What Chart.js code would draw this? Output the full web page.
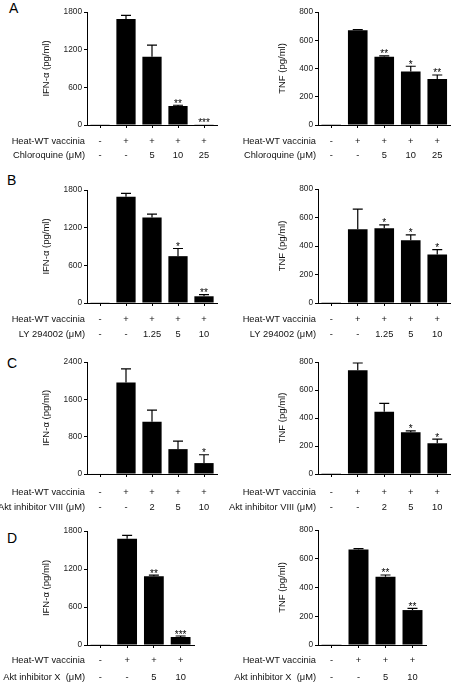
<!DOCTYPE html>
<html>
<head>
<meta charset="utf-8">
<script src="https://cdn.jsdelivr.net/npm/chart.js@4.4.1/dist/chart.umd.min.js"></script>
<style>
  body { margin: 0; background: #fff; font-family: "Liberation Sans", Arial, sans-serif; }
  #fig { position: relative; width: 452px; height: 685px; overflow: hidden; }
  canvas { position: absolute; }
  .lbl { position: absolute; font-size: 14px; line-height: 14px; color: #000; }
</style>
</head>
<body>
<div id="fig">
  <div class="lbl" style="left:9px;top:1px">A</div>
  <div class="lbl" style="left:7px;top:173px">B</div>
  <div class="lbl" style="left:7px;top:356px">C</div>
  <div class="lbl" style="left:7px;top:531px">D</div>
</div>
<script>
// row labels under the bars
const heat5 = ['-', '+', '+', '+', '+'];
const heat4 = ['-', '+', '+', '+'];
const doseA = ['-', '-', '5', '10', '25'];
const doseB = ['-', '-', '1.25', '5', '10'];
const doseC = ['-', '-', '2', '5', '10'];
const doseD = ['-', '-', '5', '10'];

// y tick labels
const ticks1800 = [0, 600, 1200, 1800];
const ticks2400 = [0, 800, 1600, 2400];
const ticks800 = [0, 200, 400, 600, 800];

// A: chloroquine
const ifnA = [5, 1688, 1088, 303, 5];
const ifnAErr = [0, 58, 185, 12, 0];
const ifnAStars = ['', '', '', '**', '***'];
const tnfA = [5, 670, 484, 378, 326];
const tnfAErr = [0, 5, 6, 38, 28];
const tnfAStars = ['', '', '**', '*', '**'];

// B: LY 294002
const ifnB = [5, 1693, 1363, 746, 107];
const ifnBErr = [0, 54, 54, 122, 26];
const ifnBStars = ['', '', '', '*', '**'];
const tnfB = [5, 518, 525, 440, 341];
const tnfBErr = [0, 141, 23, 38, 33];
const tnfBStars = ['', '', '*', '*', '*'];

// C: Akt inhibitor VIII
const ifnC = [10, 1960, 1122, 533, 234];
const ifnCErr = [0, 291, 248, 170, 178];
const ifnCStars = ['', '', '', '', '*'];
const tnfC = [5, 741, 445, 298, 220];
const tnfCErr = [0, 52, 59, 10, 29];
const tnfCStars = ['', '', '', '*', '*'];

// D: Akt inhibitor X
const ifnD = [5, 1679, 1086, 126];
const ifnDErr = [0, 53, 16, 16];
const ifnDStars = ['', '', '**', '***'];
const tnfD = [5, 665, 475, 243];
const tnfDErr = [0, 5, 12, 12];
const tnfDStars = ['', '', '**', '**'];

const FONT = "'Liberation Sans', Arial, sans-serif";

const panels = [
  { left: 0, top: 12, bottom: 125, axisW: 87, title: 'IFN-α (pg/ml)', ticks: ticks1800, vals: ifnA, err: ifnAErr, stars: ifnAStars, heat: heat5, dose: doseA, doseName: 'Chloroquine (μM)', rows: [16, 30] },
  { left: 226, top: 12, bottom: 125, axisW: 92, title: 'TNF (pg/ml)', ticks: ticks800, vals: tnfA, err: tnfAErr, stars: tnfAStars, heat: heat5, dose: doseA, doseName: 'Chloroquine (μM)', rows: [16, 30] },
  { left: 0, top: 190, bottom: 303, axisW: 87, title: 'IFN-α (pg/ml)', ticks: ticks1800, vals: ifnB, err: ifnBErr, stars: ifnBStars, heat: heat5, dose: doseB, doseName: 'LY 294002 (μM)', rows: [16, 31] },
  { left: 226, top: 189, bottom: 303, axisW: 92, title: 'TNF (pg/ml)', ticks: ticks800, vals: tnfB, err: tnfBErr, stars: tnfBStars, heat: heat5, dose: doseB, doseName: 'LY 294002 (μM)', rows: [16, 31] },
  { left: 0, top: 362, bottom: 474, axisW: 87, title: 'IFN-α (pg/ml)', ticks: ticks2400, vals: ifnC, err: ifnCErr, stars: ifnCStars, heat: heat5, dose: doseC, doseName: 'Akt inhibitor VIII (μM)', rows: [18, 33] },
  { left: 226, top: 362, bottom: 474, axisW: 92, title: 'TNF (pg/ml)', ticks: ticks800, vals: tnfC, err: tnfCErr, stars: tnfCStars, heat: heat5, dose: doseC, doseName: 'Akt inhibitor VIII (μM)', rows: [18, 33] },
  { left: 0, top: 531, bottom: 645, axisW: 87, title: 'IFN-α (pg/ml)', ticks: ticks1800, vals: ifnD, err: ifnDErr, stars: ifnDStars, heat: heat4, dose: doseD, doseName: 'Akt inhibitor X  (μM)', rows: [15, 32] },
  { left: 226, top: 530, bottom: 645, axisW: 92, title: 'TNF (pg/ml)', ticks: ticks800, vals: tnfD, err: tnfDErr, stars: tnfDStars, heat: heat4, dose: doseD, doseName: 'Akt inhibitor X  (μM)', rows: [15, 32] }
];

// error bars, stars and the treatment table under each chart
const panelExtras = (p) => ({
  id: 'panelExtras',
  afterDatasetsDraw(chart) {
    const { ctx, scales: { x, y } } = chart;
    ctx.save();
    ctx.strokeStyle = '#000';
    ctx.fillStyle = '#000';
    ctx.lineWidth = 1.2;
    ctx.font = '10px ' + FONT;
    ctx.textAlign = 'center';
    ctx.textBaseline = 'alphabetic';
    p.vals.forEach((v, i) => {
      const px = x.getPixelForValue(i);
      const top = y.getPixelForValue(v + p.err[i]);
      if (p.err[i] > 0) {
        ctx.beginPath();
        ctx.moveTo(px, y.getPixelForValue(v));
        ctx.lineTo(px, top);
        ctx.moveTo(px - 5, top);
        ctx.lineTo(px + 5, top);
        ctx.stroke();
      }
      if (p.stars[i]) ctx.fillText(p.stars[i], px, top + 1.5);
    });
    ctx.restore();
  },
  afterDraw(chart) {
    const { ctx, chartArea, scales: { x } } = chart;
    ctx.save();
    ctx.fillStyle = '#111';
    ctx.font = '9.3px ' + FONT;
    ctx.textBaseline = 'middle';
    [[p.heat, 'Heat-WT vaccinia'], [p.dose, p.doseName]].forEach(([row, name], r) => {
      const ry = chartArea.bottom + p.rows[r];
      ctx.textAlign = 'right';
      ctx.fillText(name, chartArea.left - 2, ry);
      ctx.textAlign = 'center';
      row.forEach((s, i) => ctx.fillText(s, x.getPixelForValue(i), ry));
    });
    ctx.restore();
  }
});

const fig = document.getElementById('fig');

panels.forEach((p) => {
  const n = p.vals.length;
  const catW = p.axisW === 87 ? (n === 5 ? 26 : 26.75) : (n === 5 ? 26.5 : 27);
  const cvTop = p.top - 10;
  const cvH = p.bottom - cvTop + 42;
  const cv = document.createElement('canvas');
  cv.width = 226;
  cv.height = cvH;
  cv.style.left = p.left + 'px';
  cv.style.top = cvTop + 'px';
  fig.appendChild(cv);

  const labels = p.heat.map((h, i) => h + ' / ' + p.dose[i]);

  new Chart(cv.getContext('2d'), {
    type: 'bar',
    data: {
      labels: labels,
      datasets: [{
        data: p.vals,
        backgroundColor: '#000',
        borderWidth: 0,
        categoryPercentage: 1,
        barPercentage: 0.74
      }]
    },
    options: {
      responsive: false,
      animation: false,
      layout: { padding: { top: 10, left: 0, bottom: 0, right: 226 - p.axisW - catW * n } },
      plugins: { legend: { display: false }, tooltip: { enabled: false } },
      scales: {
        x: {
          offset: true,
          grid: { display: true, drawOnChartArea: false, drawTicks: true, tickLength: 3, offset: false, color: '#000' },
          border: { display: true, color: '#000', width: 1 },
          ticks: { display: false },
          afterFit: (s) => { s.height = 42; }
        },
        y: {
          min: 0,
          max: p.ticks[p.ticks.length - 1],
          afterBuildTicks: (s) => { s.ticks = p.ticks.map((v) => ({ value: v })); },
          grid: { display: true, drawOnChartArea: false, drawTicks: true, tickLength: 3, color: '#000' },
          border: { display: true, color: '#000', width: 1 },
          ticks: { color: '#222', font: { family: FONT, size: 8.3 }, padding: 2, callback: (v) => String(v) },
          title: {
            display: true,
            text: p.title,
            color: '#111',
            font: { family: FONT, size: 9.5, lineHeight: 1 },
            padding: { top: p.axisW === 87 ? 42 : 52, bottom: 0 }
          },
          afterFit: (s) => { s.width = p.axisW; }
        }
      }
    },
    plugins: [panelExtras(p)]
  });
});
</script>
</body>
</html>
